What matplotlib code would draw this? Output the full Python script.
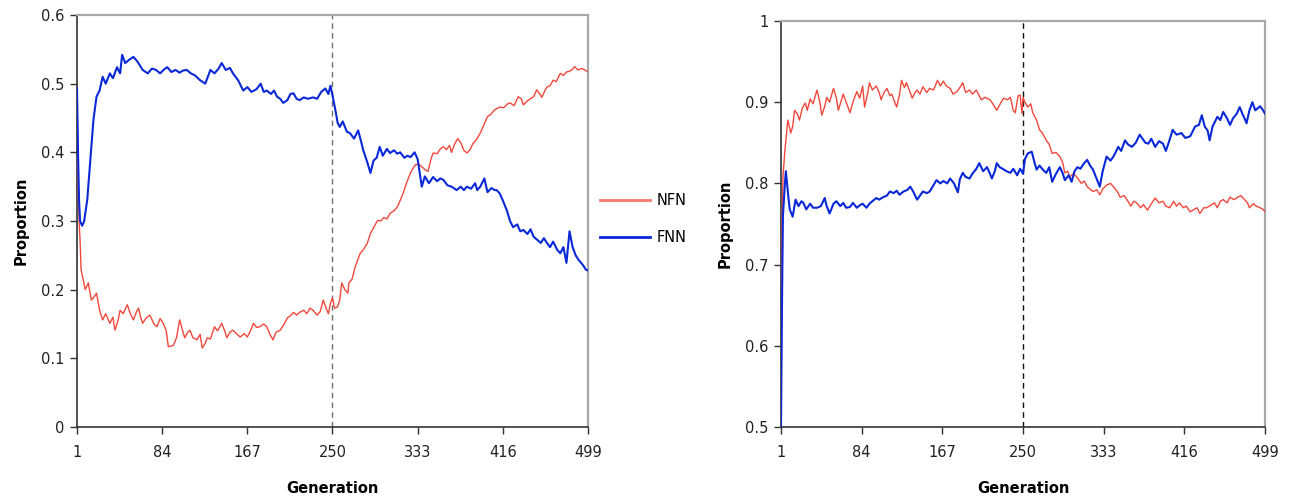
import matplotlib.pyplot as plt
from matplotlib.lines import Line2D

XTICKS = [1, 84, 167, 250, 333, 416, 499]
SWITCH = 250

# left panel, FNN (blue)
fnn_l_gen = [1, 2, 3, 4, 6, 8, 11, 14, 17, 20, 23, 26, 29, 33, 36, 40, 43, 45, 48, 52,
             56, 60, 65, 70, 74, 78, 82, 86, 89, 93, 97, 101, 104, 108, 112, 116, 121, 126, 131, 135,
             139, 142, 146, 150, 153, 158, 163, 167, 171, 176, 180, 183, 186, 190, 193, 196, 199, 202, 206, 209,
             212, 215, 218, 222, 226, 231, 235, 239, 243, 246, 248, 250, 253, 255, 257, 260, 264, 267, 271, 275,
             278, 280, 284, 287, 290, 293, 296, 299, 303, 306, 310, 313, 316, 320, 323, 326, 330, 333, 335, 337,
             340, 344, 348, 352, 355, 358, 362, 366, 371, 375, 378, 381, 385, 389, 391, 394, 398, 401, 405, 408,
             410, 413, 416, 420, 423, 426, 430, 433, 436, 440, 443, 446, 450, 453, 456, 459, 462, 465, 469, 472,
             475, 478, 481, 484, 487, 490, 494, 497, 499]
fnn_l = [0.494, 0.40, 0.33, 0.30, 0.293, 0.300, 0.331, 0.389, 0.447, 0.481, 0.490, 0.510, 0.500, 0.515, 0.508, 0.524, 0.515, 0.542, 0.530, 0.535,
         0.539, 0.532, 0.520, 0.515, 0.522, 0.520, 0.515, 0.521, 0.524, 0.517, 0.520, 0.516, 0.519, 0.520, 0.515, 0.512, 0.505, 0.500, 0.520, 0.515,
         0.522, 0.530, 0.520, 0.523, 0.515, 0.505, 0.490, 0.495, 0.488, 0.492, 0.500, 0.488, 0.490, 0.485, 0.490, 0.481, 0.478, 0.472, 0.476, 0.485,
         0.486, 0.478, 0.476, 0.480, 0.478, 0.480, 0.478, 0.488, 0.493, 0.485, 0.497, 0.483, 0.460, 0.443, 0.437, 0.445, 0.430, 0.428, 0.420, 0.432,
         0.415, 0.403, 0.385, 0.370, 0.388, 0.392, 0.408, 0.395, 0.405, 0.399, 0.403, 0.398, 0.400, 0.392, 0.395, 0.393, 0.400, 0.390, 0.370, 0.350,
         0.365, 0.355, 0.364, 0.358, 0.362, 0.360, 0.352, 0.350, 0.345, 0.350, 0.345, 0.350, 0.347, 0.355, 0.345, 0.350, 0.362, 0.342, 0.348, 0.345,
         0.345, 0.340, 0.330, 0.315, 0.300, 0.291, 0.295, 0.285, 0.287, 0.281, 0.288, 0.277, 0.272, 0.268, 0.275, 0.268, 0.262, 0.270, 0.258, 0.253,
         0.262, 0.239, 0.285, 0.262, 0.250, 0.243, 0.236, 0.229, 0.228]

# left panel, NFN (red)
nfn_l_gen = [1, 2, 3, 4, 5, 7, 9, 12, 15, 18, 20, 23, 26, 29, 33, 36, 38, 41, 43, 46,
             50, 53, 56, 59, 61, 63, 65, 68, 72, 76, 79, 82, 85, 88, 90, 93, 95, 98, 101, 104,
             106, 109, 111, 114, 118, 121, 123, 126, 128, 131, 135, 138, 142, 145, 147, 150, 153, 157, 160, 164,
             167, 170, 173, 176, 179, 183, 186, 189, 192, 195, 199, 203, 206, 209, 212, 215, 218, 222, 225, 228,
             231, 235, 238, 241, 244, 246, 248, 250, 252, 255, 257, 259, 262, 265, 266, 269, 272, 275, 277, 280,
             284, 287, 290, 294, 297, 300, 303, 306, 310, 313, 316, 319, 322, 326, 329, 331, 334, 337, 340, 343,
             346, 348, 352, 355, 358, 361, 364, 366, 369, 372, 375, 378, 381, 384, 387, 390, 394, 397, 401, 404,
             408, 413, 417, 420, 423, 427, 431, 434, 436, 440, 443, 446, 449, 452, 454, 457, 459, 462, 465, 468,
             472, 475, 478, 481, 484, 486, 489, 493, 496, 499]
nfn_l = [0.490, 0.360, 0.300, 0.272, 0.229, 0.215, 0.200, 0.210, 0.185, 0.190, 0.195, 0.170, 0.156, 0.165, 0.151, 0.160, 0.141, 0.155, 0.170, 0.165,
         0.178, 0.165, 0.156, 0.168, 0.173, 0.160, 0.151, 0.158, 0.163, 0.150, 0.146, 0.158, 0.151, 0.140, 0.117, 0.118, 0.119, 0.130, 0.156, 0.140,
         0.130, 0.138, 0.141, 0.130, 0.127, 0.135, 0.115, 0.122, 0.130, 0.128, 0.146, 0.140, 0.151, 0.140, 0.130, 0.138, 0.141, 0.135, 0.131, 0.136,
         0.131, 0.140, 0.151, 0.145, 0.146, 0.150, 0.146, 0.135, 0.127, 0.138, 0.141, 0.150, 0.159, 0.162, 0.167, 0.163, 0.167, 0.170, 0.165, 0.173,
         0.170, 0.163, 0.168, 0.185, 0.172, 0.165, 0.180, 0.188, 0.173, 0.175, 0.185, 0.210, 0.200, 0.195, 0.210, 0.215, 0.233, 0.245, 0.253, 0.258,
         0.268, 0.282, 0.290, 0.301, 0.300, 0.305, 0.303, 0.311, 0.315, 0.320, 0.330, 0.341, 0.355, 0.370, 0.378, 0.382, 0.383, 0.379, 0.375, 0.372,
         0.390, 0.399, 0.398, 0.405, 0.408, 0.404, 0.410, 0.400, 0.412, 0.420, 0.414, 0.403, 0.399, 0.404, 0.413, 0.418, 0.428, 0.438, 0.452, 0.455,
         0.462, 0.466, 0.465, 0.470, 0.472, 0.468, 0.481, 0.478, 0.469, 0.475, 0.478, 0.481, 0.491, 0.485, 0.480, 0.490, 0.495, 0.497, 0.505, 0.503,
         0.515, 0.512, 0.517, 0.518, 0.521, 0.525, 0.520, 0.522, 0.520, 0.517]

# right panel, NFN (red)
nfn_r_gen = [1, 2, 3, 5, 8, 10, 11, 13, 15, 18, 20, 23, 26, 28, 31, 34, 38, 41, 43, 46,
             48, 51, 55, 58, 60, 63, 65, 68, 72, 75, 79, 82, 85, 87, 90, 92, 95, 99, 102, 104,
             107, 110, 113, 115, 118, 120, 123, 125, 128, 130, 133, 136, 139, 141, 144, 147, 151, 154, 158, 162,
             165, 168, 171, 175, 178, 182, 185, 188, 191, 195, 198, 202, 205, 207, 211, 216, 219, 223, 227, 230,
             234, 237, 240, 242, 245, 247, 249, 250, 252, 255, 258, 260, 264, 267, 270, 274, 277, 280, 284, 288,
             291, 293, 296, 298, 302, 306, 310, 313, 316, 319, 322, 326, 329, 332, 336, 340, 343, 347, 350, 354,
             357, 361, 364, 367, 371, 374, 378, 382, 386, 390, 394, 397, 401, 405, 408, 411, 415, 418, 422, 426,
             429, 432, 436, 439, 443, 447, 450, 453, 456, 460, 463, 467, 471, 474, 478, 481, 483, 487, 490, 494,
             497, 499]
nfn_r = [0.500, 0.740, 0.808, 0.840, 0.878, 0.868, 0.862, 0.870, 0.890, 0.885, 0.878, 0.893, 0.899, 0.890, 0.904, 0.898, 0.915, 0.900, 0.884, 0.895,
         0.906, 0.900, 0.917, 0.905, 0.890, 0.902, 0.910, 0.900, 0.887, 0.900, 0.913, 0.905, 0.920, 0.894, 0.910, 0.924, 0.915, 0.920, 0.912, 0.903,
         0.912, 0.917, 0.908, 0.910, 0.900, 0.894, 0.910, 0.927, 0.918, 0.924, 0.915, 0.905, 0.912, 0.915, 0.910, 0.919, 0.912, 0.917, 0.915, 0.927,
         0.920, 0.926, 0.920, 0.917, 0.910, 0.913, 0.918, 0.924, 0.912, 0.915, 0.910, 0.915, 0.908, 0.903, 0.906, 0.903, 0.898, 0.890, 0.899, 0.905,
         0.903, 0.906, 0.890, 0.887, 0.908, 0.909, 0.886, 0.906, 0.900, 0.894, 0.898, 0.887, 0.878, 0.866, 0.862, 0.853, 0.848, 0.837, 0.838, 0.833,
         0.825, 0.813, 0.815, 0.808, 0.812, 0.807, 0.800, 0.803, 0.796, 0.793, 0.790, 0.792, 0.786, 0.793, 0.798, 0.800, 0.796, 0.790, 0.783, 0.785,
         0.780, 0.772, 0.778, 0.776, 0.770, 0.774, 0.767, 0.775, 0.782, 0.776, 0.778, 0.772, 0.770, 0.778, 0.772, 0.776, 0.770, 0.772, 0.765, 0.768,
         0.770, 0.763, 0.770, 0.770, 0.773, 0.776, 0.770, 0.778, 0.780, 0.776, 0.783, 0.780, 0.783, 0.785, 0.780, 0.776, 0.770, 0.775, 0.772, 0.770,
         0.768, 0.765]

# right panel, FNN (blue)
fnn_r_gen = [1, 2, 3, 5, 6, 8, 10, 13, 16, 19, 22, 24, 27, 31, 34, 38, 42, 46, 48, 51,
             55, 58, 62, 65, 68, 72, 75, 79, 82, 85, 89, 92, 95, 99, 102, 106, 110, 113, 117, 120,
             123, 127, 131, 134, 137, 141, 144, 147, 151, 154, 158, 161, 165, 168, 172, 175, 179, 183, 185, 188,
             191, 195, 198, 202, 205, 209, 213, 216, 218, 221, 223, 226, 229, 233, 237, 240, 244, 247, 250, 252,
             255, 259, 262, 264, 267, 269, 272, 274, 277, 280, 284, 288, 291, 293, 297, 300, 303, 306, 309, 313,
             316, 319, 322, 325, 329, 332, 336, 340, 343, 346, 348, 351, 355, 358, 362, 366, 370, 373, 376, 379,
             382, 386, 390, 394, 397, 399, 402, 404, 408, 413, 417, 422, 425, 427, 431, 434, 437, 440, 442, 445,
             450, 453, 456, 460, 463, 466, 470, 473, 476, 478, 480, 483, 486, 489, 491, 494, 497, 499]
fnn_r = [0.500, 0.650, 0.760, 0.800, 0.815, 0.790, 0.768, 0.759, 0.780, 0.772, 0.778, 0.776, 0.768, 0.775, 0.770, 0.770, 0.772, 0.782, 0.772, 0.763,
         0.775, 0.778, 0.772, 0.776, 0.770, 0.771, 0.776, 0.770, 0.773, 0.775, 0.770, 0.775, 0.778, 0.782, 0.780, 0.783, 0.785, 0.790, 0.788, 0.791,
         0.786, 0.790, 0.792, 0.796, 0.790, 0.780, 0.785, 0.790, 0.788, 0.790, 0.798, 0.804, 0.800, 0.803, 0.800, 0.806, 0.800, 0.789, 0.805, 0.813,
         0.808, 0.806, 0.812, 0.818, 0.825, 0.815, 0.820, 0.812, 0.806, 0.815, 0.825, 0.820, 0.818, 0.815, 0.813, 0.818, 0.810, 0.818, 0.812, 0.830,
         0.837, 0.839, 0.825, 0.817, 0.822, 0.819, 0.815, 0.813, 0.820, 0.802, 0.812, 0.820, 0.812, 0.804, 0.810, 0.802, 0.815, 0.820, 0.818, 0.825,
         0.829, 0.822, 0.817, 0.808, 0.796, 0.815, 0.833, 0.828, 0.833, 0.840, 0.845, 0.840, 0.853, 0.848, 0.845, 0.850, 0.860, 0.855, 0.850, 0.849,
         0.855, 0.845, 0.852, 0.849, 0.840, 0.847, 0.858, 0.866, 0.860, 0.862, 0.856, 0.858, 0.865, 0.870, 0.872, 0.884, 0.870, 0.865, 0.853, 0.870,
         0.882, 0.878, 0.888, 0.880, 0.872, 0.880, 0.886, 0.894, 0.885, 0.880, 0.874, 0.890, 0.900, 0.890, 0.892, 0.895, 0.890, 0.886]

RED = '#f0483c'
BLUE = '#0a28d8'

plt.rcParams['font.family'] = ['DejaVu Sans']
fig = plt.figure(figsize=(12.91, 4.99), dpi=100)
ax1 = fig.add_axes([77 / 1291, 72 / 499, 511 / 1291, 412 / 499])
ax2 = fig.add_axes([781 / 1291, 72 / 499, 484 / 1291, 406 / 499])


def style_axes(ax, ylim, yticks, vcolor):
    ax.set_xlim(1, 499)
    ax.set_ylim(*ylim)
    ax.set_xticks(XTICKS)
    ax.set_xticklabels([str(t) for t in XTICKS])
    ax.set_yticks(yticks)
    ax.set_yticklabels([f"{t:g}" for t in yticks])
    ax.tick_params(direction='out', length=5, width=1, color='#303030',
                   labelsize=10.5, labelcolor='#222222', pad=4)
    ax.tick_params(axis='x', pad=8)
    for s in ['top', 'right']:
        ax.spines[s].set_color('#a8a8a8')
        ax.spines[s].set_linewidth(1.6)
    for s in ['left', 'bottom']:
        ax.spines[s].set_color('#333333')
        ax.spines[s].set_linewidth(1.2)
    ax.axvline(SWITCH, color=vcolor, linestyle=(0, (4, 3)), linewidth=1, zorder=1)
    ax.set_xlabel("Generation", fontsize=10.5, fontweight='bold', labelpad=15)
    ax.set_ylabel("Proportion", fontsize=10.5, fontweight='bold', labelpad=9)


ax1.plot(nfn_l_gen, nfn_l, color=RED, linewidth=1.0, zorder=3)
ax1.plot(fnn_l_gen, fnn_l, color=BLUE, linewidth=1.5, zorder=4)
style_axes(ax1, (0, 0.6), [0, 0.1, 0.2, 0.3, 0.4, 0.5, 0.6], '#707070')

ax2.plot(nfn_r_gen, nfn_r, color=RED, linewidth=1.0, zorder=3)
ax2.plot(fnn_r_gen, fnn_r, color=BLUE, linewidth=1.5, zorder=4)
style_axes(ax2, (0.5, 1.0), [0.5, 0.6, 0.7, 0.8, 0.9, 1.0], '#111111')

handles = [Line2D([], [], color='#f47a70', linewidth=2),
           Line2D([], [], color=BLUE, linewidth=2)]
fig.legend(handles, ["NFN", "FNN"], loc='center left', bbox_to_anchor=(600 / 1291, 0.561),
           frameon=False, fontsize=10.5, handlelength=3.4, handletextpad=0.5,
           labelspacing=1.5, borderpad=0, borderaxespad=0)

fig.savefig("out.png", dpi=100)
